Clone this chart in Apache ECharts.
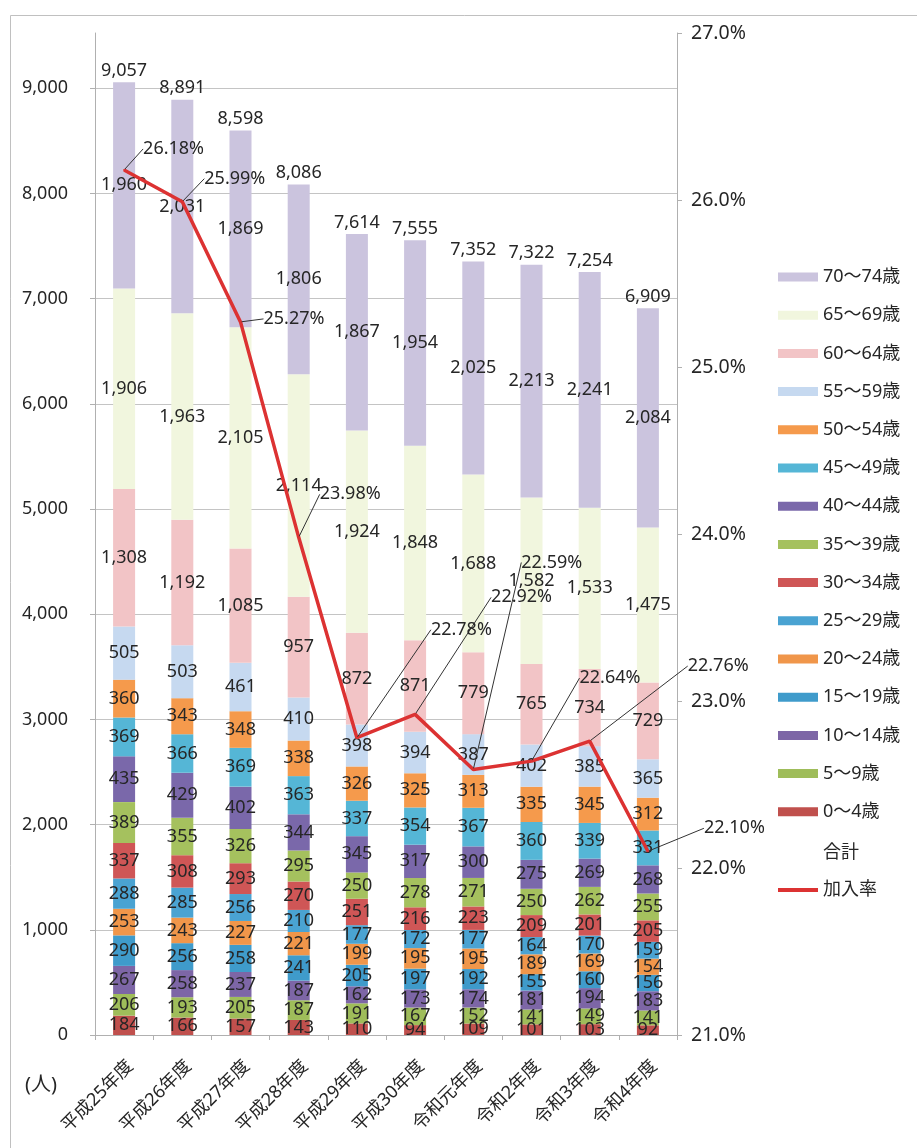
<!DOCTYPE html>
<html>
<head>
<meta charset="utf-8">
<script src="https://cdn.jsdelivr.net/npm/echarts@6/dist/echarts.min.js"></script>
<style>
html,body{margin:0;padding:0;background:#fff;}
#chart{width:917px;height:1148px;}
</style>
</head>
<body>
<div id="chart"></div>
<script>
const categories = ['平成25年度','平成26年度','平成27年度','平成28年度','平成29年度','平成30年度','令和元年度','令和2年度','令和3年度','令和4年度'];

const ageGroups = ['0～4歳','5～9歳','10～14歳','15～19歳','20～24歳','25～29歳','30～34歳','35～39歳','40～44歳','45～49歳','50～54歳','55～59歳','60～64歳','65～69歳','70～74歳'];

const age0_4   = [184,166,157,143,110,94,109,101,103,92];
const age5_9   = [206,193,205,187,191,167,152,141,149,141];
const age10_14 = [267,258,237,187,162,173,174,181,194,183];
const age15_19 = [290,256,258,241,205,197,192,155,160,156];
const age20_24 = [253,243,227,221,199,195,195,189,169,154];
const age25_29 = [288,285,256,210,177,172,177,164,170,159];
const age30_34 = [337,308,293,270,251,216,223,209,201,205];
const age35_39 = [389,355,326,295,250,278,271,250,262,255];
const age40_44 = [435,429,402,344,345,317,300,275,269,268];
const age45_49 = [369,366,369,363,337,354,367,360,339,331];
const age50_54 = [360,343,348,338,326,325,313,335,345,312];
const age55_59 = [505,503,461,410,398,394,387,402,385,365];
const age60_64 = [1308,1192,1085,957,872,871,779,765,734,729];
const age65_69 = [1906,1963,2105,2114,1924,1848,1688,1582,1533,1475];
const age70_74 = [1960,2031,1869,1806,1867,1954,2025,2213,2241,2084];

const totals = [9057,8891,8598,8086,7614,7555,7352,7322,7254,6909];
const rates  = [26.18,25.99,25.27,23.98,22.78,22.92,22.59,22.64,22.76,22.10];

const leftTicks  = [0,1000,2000,3000,4000,5000,6000,7000,8000,9000];
const rightTicks = [21,22,23,24,25,26,27];

const ageValues = [age0_4,age5_9,age10_14,age15_19,age20_24,age25_29,age30_34,age35_39,age40_44,age45_49,age50_54,age55_59,age60_64,age65_69,age70_74];
const ageColors = ['#c0504d','#9fbd5a','#7d66a6','#3f9bcb','#f0964a','#4aa3d2','#cf5656','#a5c15e','#7a68aa','#55b6d6','#f59a4c','#c6d9f0','#f2c4c6','#f1f6de','#cbc4de'];

// label offsets for rate labels (dx, dy)
const rateLabelOffsets = [[13,-21],[16,-23],[17,-3],[15,-43],[68,-108],[70,-117],[42,-207],[42,-83],[92,-75],[50,-23]];

const FONT = "'Noto Sans', 'Noto Sans CJK JP', sans-serif";
const fmt = v => Number(v).toLocaleString('en-US');

const chart = echarts.init(document.getElementById('chart'), null, {renderer:'canvas'});

const series = ageGroups.map((name, i) => ({
  name: name,
  type: 'bar',
  stack: 'total',
  barWidth: 22,
  yAxisIndex: 0,
  data: ageValues[i],
  itemStyle: {color: ageColors[i]},
  label: {
    show: true,
    position: 'inside',
    formatter: p => fmt(p.value),
    fontSize: 18,
    fontFamily: FONT,
    color: '#262626'
  }
}));

series.push({
  name: '合計',
  type: 'line',
  yAxisIndex: 0,
  data: totals,
  symbol: 'circle',
  symbolSize: 1,
  lineStyle: {opacity: 0},
  itemStyle: {color: 'rgba(0,0,0,0)'},
  label: {
    show: true,
    position: 'top',
    distance: 2,
    formatter: p => fmt(p.value),
    fontSize: 18,
    fontFamily: FONT,
    color: '#262626'
  },
  z: 5
});

series.push({
  name: '加入率',
  type: 'line',
  yAxisIndex: 1,
  data: rates,
  symbol: 'circle',
  symbolSize: 2,
  itemStyle: {color: '#dc3232'},
  lineStyle: {color: '#dc3232', width: 3.5},
  label: {
    show: true,
    position: 'right',
    distance: 5,
    formatter: p => p.value.toFixed(2) + '%',
    fontSize: 18,
    fontFamily: FONT,
    color: '#262626'
  },
  labelLine: {show: true, lineStyle: {color: '#333', width: 1}},
  labelLayout: p => ({dx: rateLabelOffsets[p.dataIndex][0], dy: rateLabelOffsets[p.dataIndex][1]}),
  z: 10
});

const splitColors = leftTicks.map(() => '#c4c4c4').concat(['rgba(0,0,0,0)']);

const option = {
  animation: false,
  backgroundColor: '#fff',
  textStyle: {fontFamily: FONT},
  grid: {left: 95, right: 240, top: 33, bottom: 113, containLabel: false},
  legend: [
    {
      orient: 'vertical',
      left: 773,
      top: 263,
      itemWidth: 40,
      itemHeight: 9,
      itemGap: 20.2,
      icon: 'rect',
      data: ageGroups.slice().reverse(),
      textStyle: {fontSize: 18, fontFamily: FONT, color: '#262626', lineHeight: 18}
    },
    {
      orient: 'vertical',
      left: 773,
      top: 839,
      itemWidth: 40,
      itemHeight: 4,
      itemGap: 19,
      data: [{name: '合計', icon: 'none'}, {name: '加入率', icon: 'rect'}],
      textStyle: {fontSize: 18, fontFamily: FONT, color: '#262626', lineHeight: 18}
    }
  ],
  xAxis: {
    type: 'category',
    data: categories,
    axisLine: {show: true, lineStyle: {color: '#b0b0b0'}},
    axisTick: {show: true, length: 5, lineStyle: {color: '#b0b0b0'}},
    axisLabel: {rotate: 45, fontSize: 18, fontFamily: FONT, color: '#262626', margin: 22, verticalAlign: 'top', interval: 0}
  },
  yAxis: [
    {
      type: 'value',
      min: leftTicks[0],
      max: 9525,
      interval: 1000,
      axisLine: {show: true, lineStyle: {color: '#b0b0b0'}},
      axisTick: {show: true, length: 5, lineStyle: {color: '#b0b0b0'}},
      axisLabel: {showMaxLabel: false, fontSize: 18, fontFamily: FONT, color: '#262626', margin: 27, formatter: v => fmt(v)},
      splitLine: {show: true, lineStyle: {color: splitColors, width: 1}}
    },
    {
      type: 'value',
      min: rightTicks[0],
      max: rightTicks[rightTicks.length - 1],
      interval: 1,
      position: 'right',
      axisLine: {show: true, lineStyle: {color: '#b0b0b0'}},
      axisTick: {show: true, length: 5, lineStyle: {color: '#b0b0b0'}},
      axisLabel: {fontSize: 19.5, fontFamily: FONT, color: '#262626', margin: 14, formatter: v => v.toFixed(1) + '%'},
      splitLine: {show: false}
    }
  ],
  graphic: [
    {type: 'rect', left: 8, top: 13, shape: {width: 1000, height: 1200}, style: {fill: 'none', stroke: '#c0c0c0', lineWidth: 1}, silent: true},
    {type: 'text', left: 25, top: 1075, style: {text: '(人)', fontSize: 20, fontFamily: FONT, fill: '#262626'}}
  ],
  series: series
};

chart.setOption(option);
</script>
</body>
</html>
